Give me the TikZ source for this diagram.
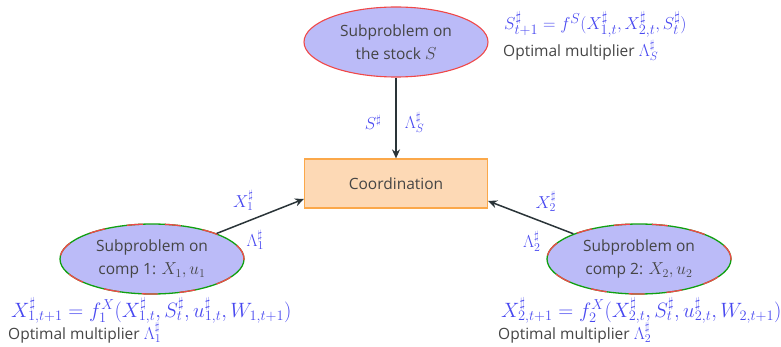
\documentclass[tikz,border=0pt]{standalone}
\usepackage{fontspec}
\setmainfont{Open Sans}
\usetikzlibrary{arrows.meta,shapes.geometric}
\definecolor{txt}{HTML}{454545}
\definecolor{mblue}{HTML}{4848F0}
\definecolor{ellfill}{HTML}{BBBBF8}
\definecolor{boxfill}{HTML}{FDD9B5}
\definecolor{boxdraw}{HTML}{FBA84A}
\definecolor{arr}{HTML}{2A3438}
\definecolor{gr}{HTML}{10A010}
\definecolor{rd}{HTML}{F04848}
\newcommand{\mbig}{\fontsize{19}{23}\selectfont}
\newcommand{\mbigger}{\fontsize{20.5}{24}\selectfont}
\newcommand{\mlam}{\fontsize{16.5}{20}\selectfont}
\tikzset{
  every node/.style={font=\fontsize{15.5}{23}\selectfont, text=txt},
  sub/.style={ellipse, fill=ellfill, minimum width=184pt, minimum height=70pt, inner sep=0pt, align=center},
  subtop/.style={sub, draw=rd, line width=1.1pt},
  subcomp/.style={sub, draw=gr, line width=1.3pt,
    postaction={draw=rd, line width=1.3pt, dash pattern=on 16pt off 22pt}},
  coord/.style={rectangle, fill=boxfill, draw=boxdraw, line width=1.2pt, minimum width=183pt, minimum height=49pt},
  link/.style={-{Stealth[length=9pt,width=8pt]}, draw=arr, line width=1.5pt},
  lab/.style={text=mblue, inner sep=0pt, font=\fontsize{17}{20}\selectfont},
  info/.style={anchor=base west, inner sep=0pt},
}
\begin{document}
\begin{tikzpicture}[x=1pt,y=-1pt]
\useasboundingbox (0,0) rectangle (781,347);
\node[subtop] (S) at (396,42) {Subproblem on\\the stock {\fontsize{16.5}{23}\selectfont$S$}};
\node[subcomp] (C1) at (152,259) {Subproblem on\\comp 1: {\fontsize{16.5}{23}\selectfont$X_1, u_1$}};
\node[subcomp] (C2) at (639,259) {Subproblem on\\comp 2: {\fontsize{16.5}{23}\selectfont$X_2, u_2$}};
\node[coord] (K) at (396,183.5) {Coordination};
\draw[link] (S) -- (K)
  node[lab, midway, anchor=east, xshift=-14pt, yshift=-4pt] (ls1) {$S^\sharp$}
  node[lab, midway, anchor=west, xshift=8pt, yshift=-4pt] (ls2) {$\Lambda_S^\sharp$};
\draw[link] (C1) -- (K.south west |- 0,199)
  node[lab, pos=0.5, anchor=south east, xshift=-6pt, yshift=5pt] (l11) {$X_1^\sharp$}
  node[lab, pos=0.5, anchor=north, xshift=-5pt, yshift=-13pt] (l12) {$\Lambda_1^\sharp$};
\draw[link] (C2) -- (K.south east |- 0,201)
  node[lab, pos=0.5, anchor=south west, xshift=4pt, yshift=5pt] (l21) {$X_2^\sharp$}
  node[lab, pos=0.5, anchor=north, xshift=1pt, yshift=-13pt] (l22) {$\Lambda_2^\sharp$};
\node[info] (fS) at (504,30) {\color{mblue}\mbig$S^\sharp_{t+1} = f^S(X^\sharp_{1,t}, X^\sharp_{2,t}, S^\sharp_t)$};
\node[info] (mS) at (503,57) {Optimal multiplier {\color{mblue}\mlam$\Lambda_S^\sharp$}};
\node[info] (f1) at (11,317) {\color{mblue}\mbigger$X^\sharp_{1,t+1} = f_1^X(X^\sharp_{1,t}, S^\sharp_t, u^\sharp_{1,t}, W_{1,t+1})$};
\node[info] (m1) at (8,339) {Optimal multiplier {\color{mblue}\mlam$\Lambda_1^\sharp$}};
\node[info] (f2) at (501,317) {\color{mblue}\mbigger$X^\sharp_{2,t+1} = f_2^X(X^\sharp_{2,t}, S^\sharp_t, u^\sharp_{2,t}, W_{2,t+1})$};
\node[info] (m2) at (498,339) {Optimal multiplier {\color{mblue}\mlam$\Lambda_2^\sharp$}};
\end{tikzpicture}
\end{document}
